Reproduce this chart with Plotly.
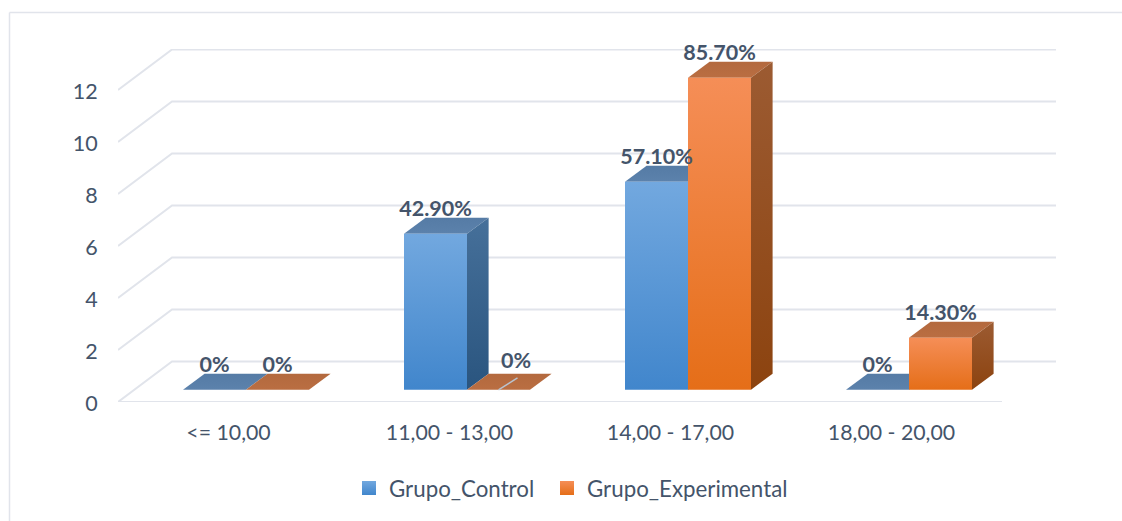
import plotly.graph_objects as go

categories = ["<= 10,00", "11,00 - 13,00", "14,00 - 17,00", "18,00 - 20,00"]
control_values = [0, 6, 8, 0]
experimental_values = [0, 0, 12, 2]
control_labels = ["0%", "42.90%", "57.10%", "0%"]
experimental_labels = ["0%", "0%", "85.70%", "14.30%"]
y_ticks = [0, 2, 4, 6, 8, 10, 12]

TEXT = "#44546A"
GRID = "#E1E4EB"
FONT = "Lato"

# pixel geometry of the plot area
L, R, T, B = 118, 1057, 49, 402
PX_X = 221.0   # pixels per category
PX_Y = 26.0    # pixels per value unit
DEPTH_X = 54 / PX_X
DEPTH_Y = 40.5 / PX_Y
BAR_W = 63 / PX_X
SHIFT = 1.3 / PX_X
D0, D1 = 0.30, 0.70
X_MIN = -0.5
X_MAX = X_MIN + (R - L) / PX_X
Y_MAX = (B - T) / PX_Y
FLOOR_END = X_MIN + len(categories)


def pr(x, y, d):
    return x + d * DEPTH_X, y + d * DEPTH_Y


fig = go.Figure()


def line(xs, ys, color=GRID, width=2):
    fig.add_trace(go.Scatter(x=xs, y=ys, mode="lines", line=dict(color=color, width=width),
                             showlegend=False, hoverinfo="skip", cliponaxis=False))


# walls: side diagonal + back gridline for each tick
for v in y_ticks:
    x0, y0 = pr(X_MIN, v, 0)
    x1, y1 = pr(X_MIN, v, 1)
    x2, y2 = pr(FLOOR_END, v, 1)
    line([x0, x1, x2], [y0, y1, y2])
line([X_MIN, FLOOR_END], [0, 0])


def poly(xs, ys, top, bottom):
    fig.add_trace(go.Scatter(
        x=xs + xs[:1], y=ys + ys[:1], mode="lines", fill="toself",
        line=dict(width=0, color=top),
        fillgradient=dict(type="vertical", colorscale=[[0, bottom], [1, top]]),
        showlegend=False, hoverinfo="skip"))


def bar(x_left, value, st):
    x_right = x_left + BAR_W
    # top face
    a = pr(x_left, value, D0)
    b = pr(x_right, value, D0)
    c = pr(x_right, value, D1)
    d = pr(x_left, value, D1)
    poly([a[0], b[0], c[0], d[0]], [a[1], b[1], c[1], d[1]], st["top_a"], st["top_b"])
    if value > 0:
        # side face
        e = pr(x_right, 0, D0)
        f = pr(x_right, 0, D1)
        poly([b[0], c[0], f[0], e[0]], [b[1], c[1], f[1], e[1]], st["side_a"], st["side_b"])
        # front face
        g = pr(x_left, 0, D0)
        poly([a[0], b[0], e[0], g[0]], [a[1], b[1], e[1], g[1]], st["front_a"], st["front_b"])


BLUE = dict(top_a="#557BA5", top_b="#5C82AC", side_a="#46709A", side_b="#2A557F",
            front_a="#72A8DF", front_b="#4186CC")
ORANGE = dict(top_a="#B3693E", top_b="#BA6E42", side_a="#9C5B32", side_b="#8C430F",
              front_a="#F58E57", front_b="#E56E18")

for i in range(len(categories)):
    bar(i + SHIFT - BAR_W, control_values[i], BLUE)
for i in range(len(categories)):
    bar(i + SHIFT, experimental_values[i], ORANGE)

# leader line of the moved 0% label in the second group
lx0, ly0 = pr(1 + SHIFT + BAR_W / 2, 0, D0)
line([lx0, lx0 + 19 / PX_X], [ly0, ly0 + 12 / PX_Y], color="#B9C3CF", width=1.5)

# data labels
LABEL_UP = 23 / PX_Y
MOVED = {(1, 1): (17.5 / PX_X, 4 / PX_Y)}  # (series, category) -> manual offset


def labels(series, values, texts, x_off):
    xs, ys = [], []
    for i, v in enumerate(values):
        dx, dy = MOVED.get((series, i), (0, 0))
        px, py = pr(i + SHIFT + x_off, v, D0)
        xs.append(px + dx)
        ys.append(py + LABEL_UP + dy)
    fig.add_trace(go.Scatter(x=xs, y=ys, text=texts, mode="text", textposition="middle center",
                             textfont=dict(family=FONT, size=21.5, color=TEXT, weight="bold"),
                             showlegend=False, hoverinfo="skip", cliponaxis=False))


labels(0, control_values, control_labels, -BAR_W / 2)
labels(1, experimental_values, experimental_labels, BAR_W / 2)

# legend entries
for name, c_top, c_bot, lg in [("Grupo_Control", "#72A8DF", "#4186CC", "legend"),
                               ("Grupo_Experimental", "#F58E57", "#E56E18", "legend2")]:
    fig.add_trace(go.Scatter(x=[None], y=[None], mode="markers", name=name, legend=lg,
                             marker=dict(symbol="square", size=14, color=c_top,
                                         gradient=dict(type="vertical", color=c_bot),
                                         line=dict(width=0))))

W = R - L
H = B - T


def legend_at(px):
    return dict(orientation="h", x=(px - L) / W, xanchor="left", y=-(488 - B) / H, yanchor="middle",
                font=dict(family=FONT, size=22.3, color=TEXT), itemwidth=30,
                bgcolor="rgba(0,0,0,0)")


fig.update_layout(
    width=1122, height=521,
    margin=dict(l=L, r=1122 - R, t=T, b=521 - B, pad=0),
    paper_bgcolor="white", plot_bgcolor="white",
    font=dict(family=FONT, size=21.3, color=TEXT),
    xaxis=dict(range=[X_MIN, X_MAX], tickvals=list(range(len(categories))), ticktext=categories,
               showgrid=False, zeroline=False, showline=False, ticks="outside", ticklen=11,
               tickcolor="rgba(0,0,0,0)", tickfont=dict(family=FONT, size=21.3, color=TEXT)),
    yaxis=dict(range=[0, Y_MAX], tickvals=y_ticks, showgrid=False, zeroline=False, showline=False,
               ticks="outside", ticklen=15, tickcolor="rgba(0,0,0,0)", ticklabelshift=1,
               tickfont=dict(family=FONT, size=21.5, color=TEXT)),
    legend=legend_at(349),
    legend2=legend_at(547),
    shapes=[
        dict(type="line", xref="paper", yref="paper", x0=(9.5 - L) / W, x1=(1122 - L) / W,
             y0=(B - 12.5) / H, y1=(B - 12.5) / H, line=dict(color=GRID, width=1.5)),
        dict(type="line", xref="paper", yref="paper", x0=(9.5 - L) / W, x1=(9.5 - L) / W,
             y0=(B - 12.5) / H, y1=(B - 521) / H, line=dict(color=GRID, width=1.5)),
    ],
)

fig.write_html("out.html", post_script="document.body.style.margin='0';document.body.style.overflow='hidden';",
               config=dict(displayModeBar=False))
